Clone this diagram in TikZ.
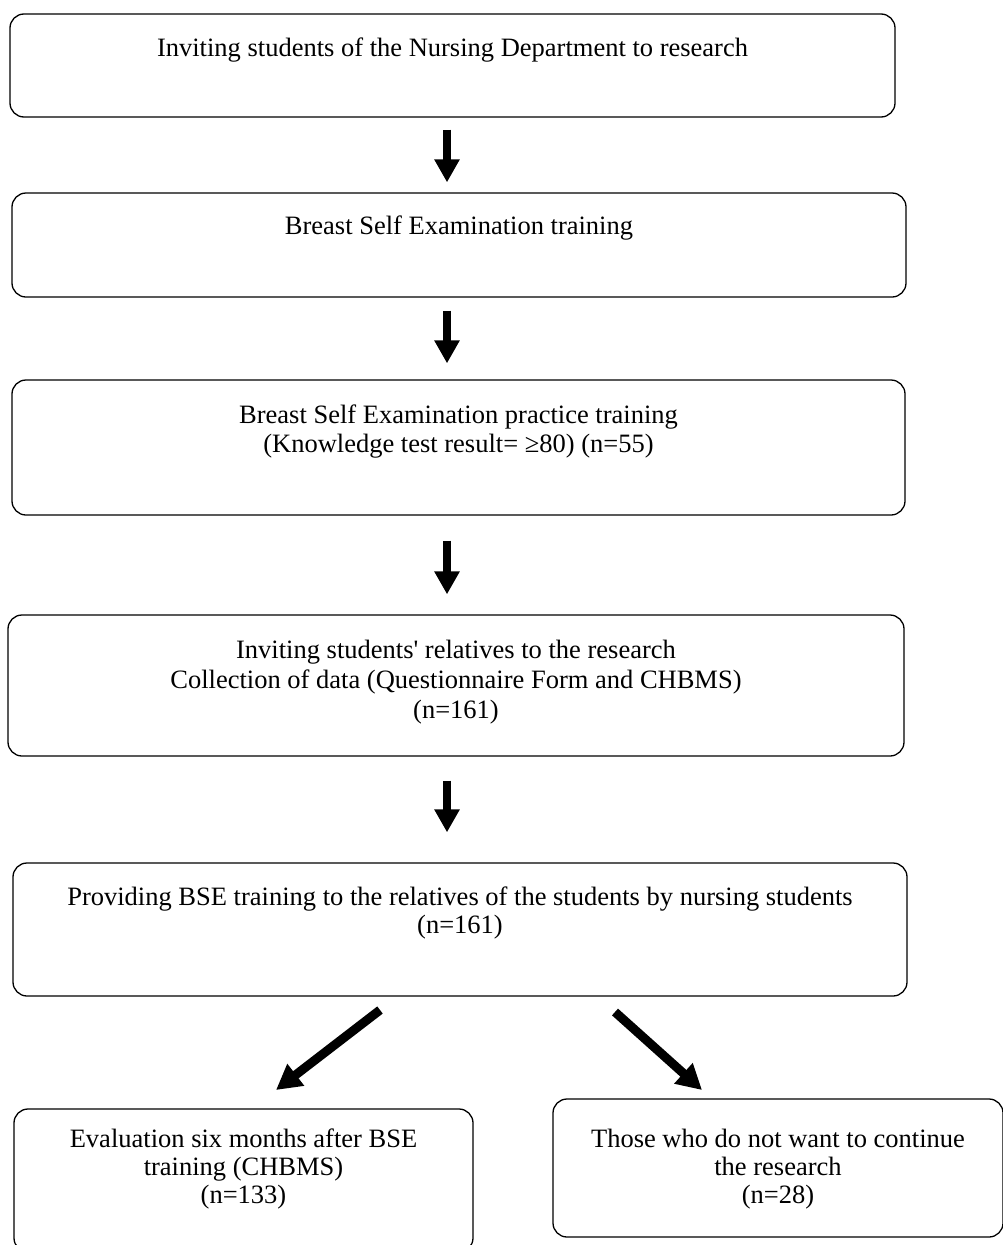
\documentclass[tikz,border=0pt]{standalone}
\usepackage{fontspec}
\setmainfont{Liberation Serif}[Ligatures=TeXOff]
\usetikzlibrary{arrows.meta}
\begin{document}
\begin{tikzpicture}[x=1pt,y=-1pt,
  box/.style={draw=black, line width=1.3pt, rounded corners=14pt, inner sep=0pt, rectangle},
  txt/.style={anchor=base, inner sep=0pt, font=\fontsize{26.5}{30}\selectfont},
  varrow/.style={line width=8pt, -{Triangle[length=23pt,width=24pt]}},
  darrow/.style={line width=9pt, -{Triangle[length=25pt,width=26pt]}}]
\useasboundingbox (0,0) rectangle (1002,1245);
% boxes
\node[box, minimum width=885pt, minimum height=103pt] (b1) at (452.5,65.5) {};
\node[box, minimum width=894pt, minimum height=104pt] (b2) at (459,245) {};
\node[box, minimum width=893pt, minimum height=135pt] (b3) at (458.5,447.5) {};
\node[box, minimum width=896pt, minimum height=141pt] (b4) at (456,685.5) {};
\node[box, minimum width=894pt, minimum height=133pt] (b5) at (460,929.5) {};
\node[box, minimum width=459pt, minimum height=143pt] (b6) at (243.5,1180.5) {};
\node[box, minimum width=450pt, minimum height=138pt] (b7) at (778,1168) {};
% texts
\node[txt] (t1) at (452.5,56) {Inviting students of the Nursing Department to research};
\node[txt] (t2) at (459,234) {Breast Self Examination training};
\node[txt] (t3a) at (458.5,423) {Breast Self Examination practice training};
\node[txt] (t3b) at (458.5,452) {(Knowledge test result= ≥80) (n=55)};
\node[txt] (t4a) at (456,658) {Inviting students' relatives to the research};
\node[txt] (t4b) at (456,688) {Collection of data (Questionnaire Form and CHBMS)};
\node[txt] (t4c) at (456,718) {(n=161)};
\node[txt] (t5a) at (460,905) {Providing BSE training to the relatives of the students by nursing students};
\node[txt] (t5b) at (460,933) {(n=161)};
\node[txt] (t6a) at (243.5,1147) {Evaluation six months after BSE};
\node[txt] (t6b) at (243.5,1175) {training (CHBMS)};
\node[txt] (t6c) at (243.5,1203) {(n=133)};
\node[txt] (t7a) at (778,1147) {Those who do not want to continue};
\node[txt] (t7b) at (778,1175) {the research};
\node[txt] (t7c) at (778,1203) {(n=28)};
% arrows
\coordinate (ax) at (447,0);
\draw[varrow, shorten <=12pt, shorten >=10pt] (b1.south -| ax) -- (b2.north -| ax);
\draw[varrow, shorten <=13pt, shorten >=16pt] (b2.south -| ax) -- (b3.north -| ax);
\draw[varrow, shorten <=25pt, shorten >=20pt] (b3.south -| ax) -- (b4.north -| ax);
\draw[varrow, shorten <=24pt, shorten >=30pt] (b4.south -| ax) -- (b5.north -| ax);
\coordinate (l1) at (380,1010);
\coordinate (l2) at (276,1090);
\coordinate (r1) at (615,1012);
\coordinate (r2) at (702,1090);
\draw[darrow] (l1) -- (l2);
\draw[darrow] (r1) -- (r2);
\end{tikzpicture}
\end{document}
